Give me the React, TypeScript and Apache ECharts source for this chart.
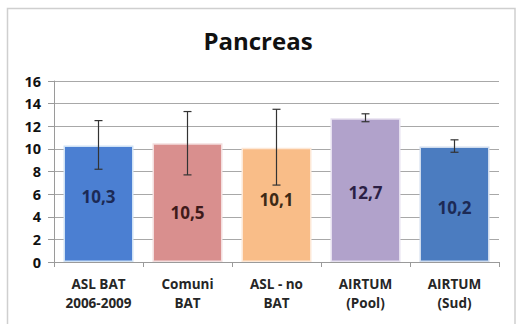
import React, { useEffect, useRef } from "react";
import * as echarts from "echarts";

const categories = ["ASL BAT\n2006-2009", "Comuni\nBAT", "ASL - no\nBAT", "AIRTUM\n(Pool)", "AIRTUM\n(Sud)"];
const values = [10.3, 10.5, 10.1, 12.7, 10.2];
const errLow = [8.2, 7.7, 6.8, 12.4, 9.7];
const errHigh = [12.5, 13.3, 13.5, 13.1, 10.8];
const yTicks = [0, 2, 4, 6, 8, 10, 12, 14, 16];

const barColors = ["#4b7fd2", "#d98f8e", "#f9bd88", "#b1a2cb", "#4b7cc0"];
const barBorders = ["#cfe2f5", "#f3dede", "#fde8d6", "#e6e0f0", "#cfdcee"];
const labelColors = ["#1c2a55", "#3f1a1a", "#3d2a16", "#2b1f45", "#1c2a55"];
const labelShift = [-7, 10, -5, 2, 3];

export default function App() {
  const ref = useRef<HTMLDivElement>(null);
  useEffect(() => {
    const chart = echarts.init(ref.current!, null, { renderer: "svg" });
    const font = "'Open Sans', sans-serif";
    chart.setOption({
      animation: false,
      backgroundColor: "#ffffff",
      title: {
        text: "Pancreas",
        left: "center",
        top: 23,
        textStyle: { fontFamily: font, fontSize: 24, fontWeight: "bold", color: "#111111" },
      },
      graphic: [
        {
          type: "rect",
          shape: { x: 7.5, y: 8.5, width: 507.5, height: 400 },
          style: { fill: "none", stroke: "#cfcfcf", lineWidth: 1.5 },
          silent: true,
        },
      ],
      grid: { left: 54, right: 17, top: 81, bottom: 62 },
      xAxis: {
        type: "category",
        data: categories,
        axisLine: { show: true, lineStyle: { color: "#9a9a9a" } },
        axisTick: { show: true, alignWithLabel: false, length: 5, lineStyle: { color: "#9a9a9a" } },
        axisLabel: {
          fontFamily: font,
          fontSize: 13.5,
          fontWeight: "bold",
          color: "#262626",
          lineHeight: 19,
          margin: 12,
          interval: 0,
        },
      },
      yAxis: {
        type: "value",
        min: yTicks[0],
        max: yTicks[yTicks.length - 1],
        interval: 2,
        axisLine: { show: true, lineStyle: { color: "#9a9a9a" } },
        axisTick: { show: true, length: 6, lineStyle: { color: "#9a9a9a" } },
        splitLine: { show: true, lineStyle: { color: "#a8a8a8", width: 1 } },
        axisLabel: {
          fontFamily: font,
          fontSize: 14.5,
          fontWeight: "bold",
          color: "#111111",
          margin: 13,
        },
      },
      series: [
        {
          type: "bar",
          barWidth: 70,
          data: values.map((v, i) => ({
            value: v,
            itemStyle: { color: barColors[i], borderColor: barBorders[i], borderWidth: 1.5 },
            label: { color: labelColors[i], offset: [0, labelShift[i]] },
          })),
          label: {
            show: true,
            position: "inside",
            fontFamily: font,
            fontSize: 17,
            fontWeight: "bold",
            formatter: (p: any) => String(p.value).replace(".", ","),
          },
        },
        {
          type: "custom",
          data: values.map((_, i) => [i, errLow[i], errHigh[i]]),
          encode: { x: 0, y: [1, 2] },
          z: 10,
          renderItem: (params: any, api: any) => {
            const idx = api.value(0);
            const lo = api.coord([idx, api.value(1)]);
            const hi = api.coord([idx, api.value(2)]);
            const w = 4;
            const style = { stroke: "#333333", lineWidth: 1.2 };
            return {
              type: "group",
              children: [
                { type: "line", shape: { x1: hi[0], y1: hi[1], x2: lo[0], y2: lo[1] }, style },
                { type: "line", shape: { x1: hi[0] - w, y1: hi[1], x2: hi[0] + w, y2: hi[1] }, style },
                { type: "line", shape: { x1: lo[0] - w, y1: lo[1], x2: lo[0] + w, y2: lo[1] }, style },
              ],
            };
          },
        },
      ],
    });
    return () => chart.dispose();
  }, []);
  return (
    <div
      ref={ref}
      style={{ position: "absolute", left: 0, top: 0, width: 516, height: 324 }}
    />
  );
}
